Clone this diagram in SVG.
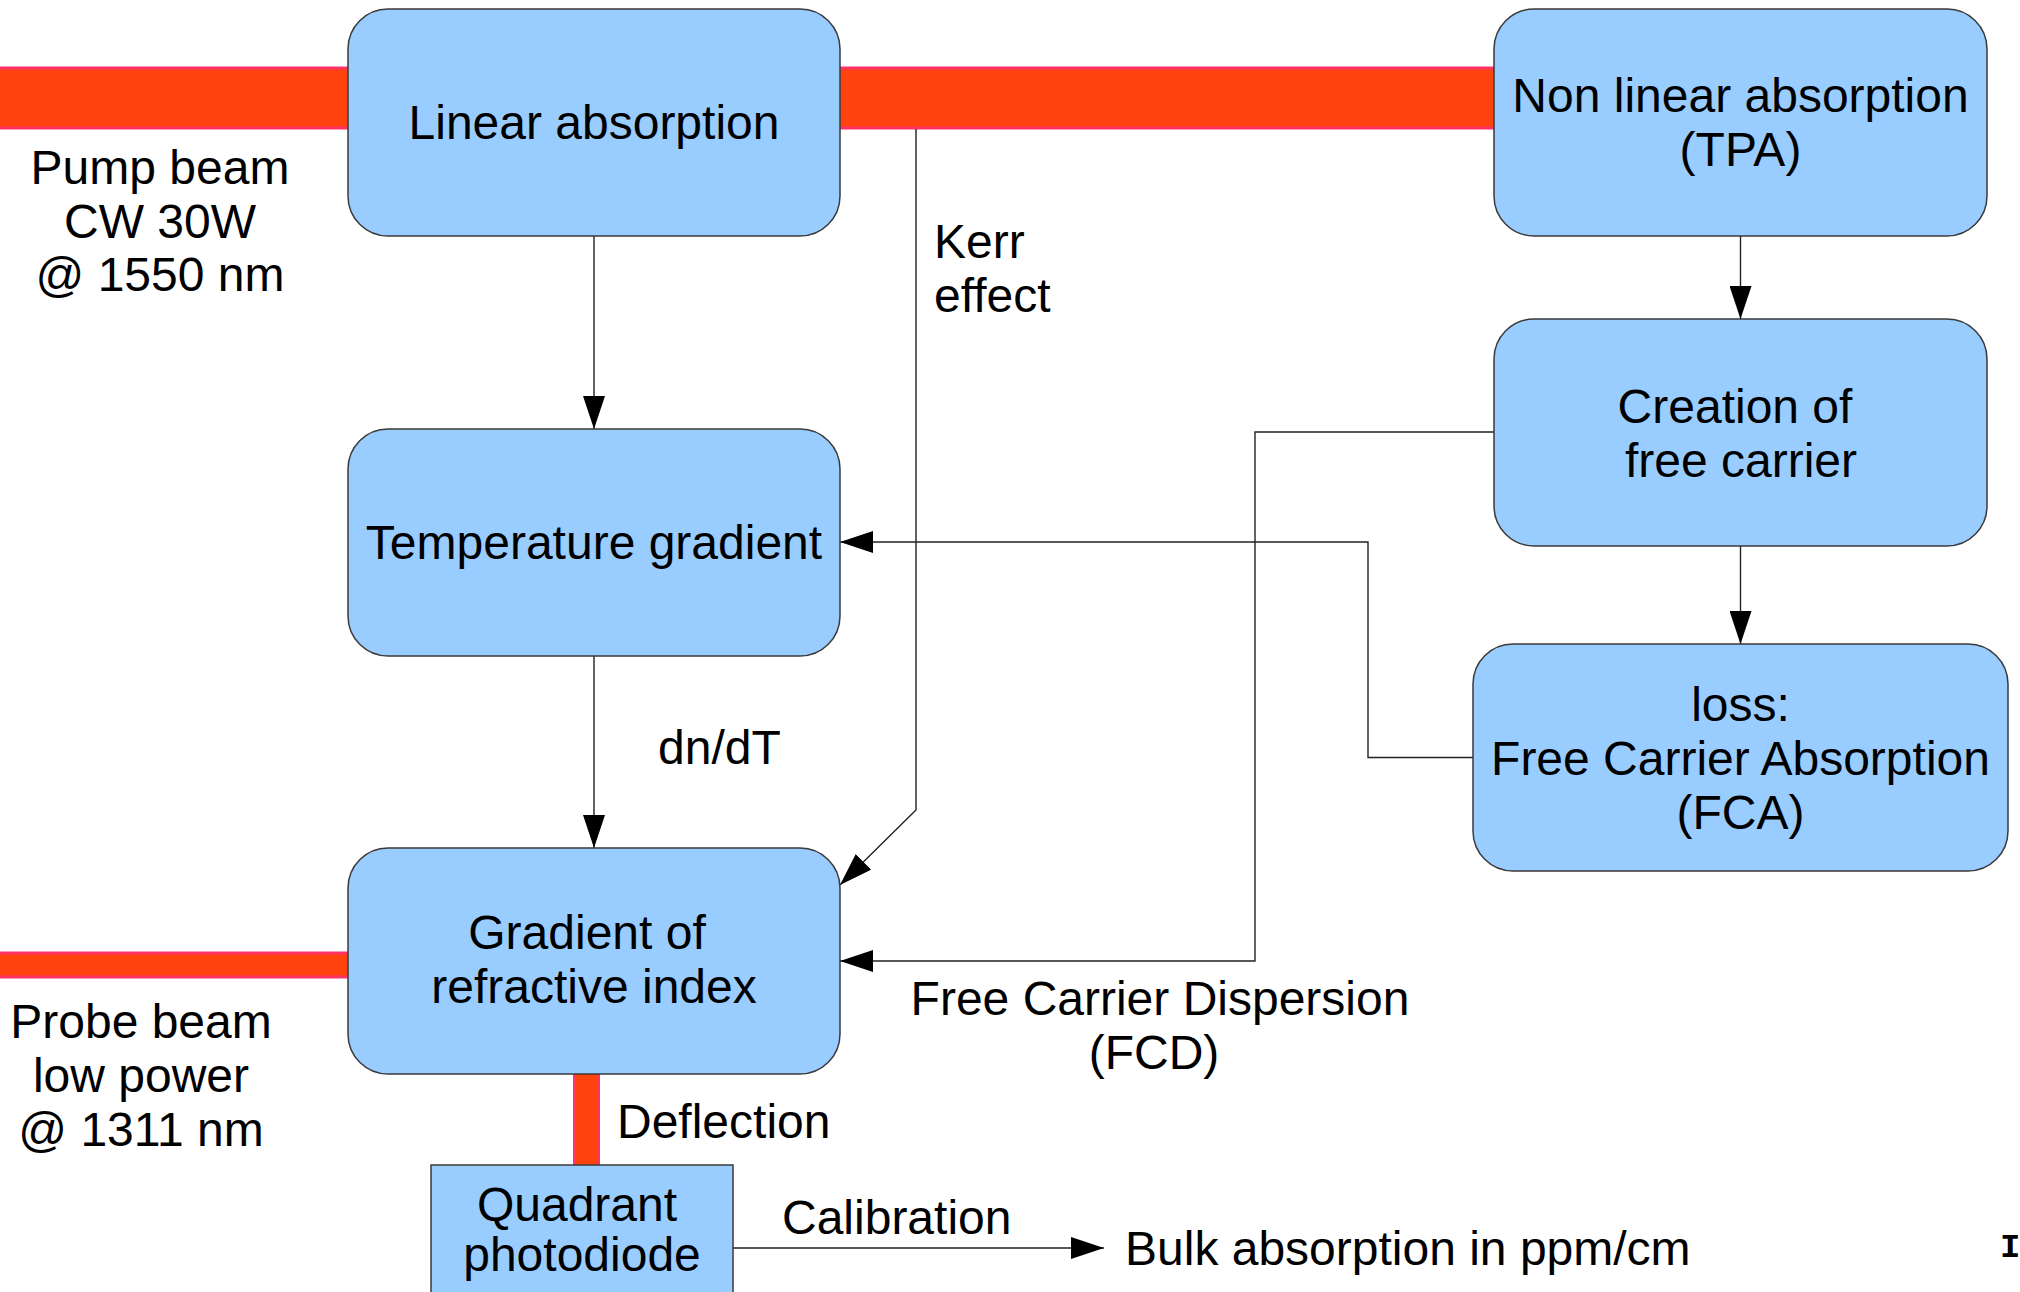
<svg xmlns="http://www.w3.org/2000/svg" width="2020" height="1292" viewBox="0 0 2020 1292">
<style>
  .box { fill: #99CCFF; stroke: #3a3a3a; stroke-width: 1.5; }
  .beam { fill: #FF420E; stroke: #FF3366; stroke-width: 3; }
  .t { font-family: "Liberation Sans", Arial, sans-serif; font-size: 48px; fill: #000; }
  .c { text-anchor: middle; }
  .wire { fill: none; stroke: #222; stroke-width: 1.4; }
</style>
<defs>
  <marker id="arr" markerUnits="userSpaceOnUse" markerWidth="34" markerHeight="22" refX="33" refY="11" orient="auto" viewBox="0 0 34 22">
    <path d="M0,0 L33,11 L0,22 z" fill="#000"/>
  </marker>
</defs>
<rect width="2020" height="1292" fill="#fff"/>

<g id="beams">
  <rect class="beam" x="-5" y="68" width="1510" height="60"/>
  <rect class="beam" x="-5" y="953" width="360" height="24"/>
  <rect class="beam" x="574.5" y="1070" width="24" height="100"/>
</g>

<g id="connectors">
  <line class="wire" x1="594" y1="236" x2="594" y2="429" marker-end="url(#arr)"/>
  <line class="wire" x1="594" y1="656" x2="594" y2="848" marker-end="url(#arr)"/>
  <line class="wire" x1="1740.5" y1="236" x2="1740.5" y2="319" marker-end="url(#arr)"/>
  <line class="wire" x1="1740.5" y1="546" x2="1740.5" y2="644" marker-end="url(#arr)"/>
  <polyline class="wire" points="1473,757.5 1368,757.5 1368,542 840,542" marker-end="url(#arr)"/>
  <polyline class="wire" points="1494,432 1255,432 1255,961 840,961" marker-end="url(#arr)"/>
  <polyline class="wire" points="916,129 916,810 840,885" marker-end="url(#arr)"/>
  <line class="wire" x1="733" y1="1248" x2="1104" y2="1248" marker-end="url(#arr)"/>
</g>

<g id="linear-absorption">
  <rect class="box" x="348" y="9" width="492" height="227" rx="40" ry="40"/>
  <text class="t c" x="594" y="139">Linear absorption</text>
</g>
<g id="temperature-gradient">
  <rect class="box" x="348" y="429" width="492" height="227" rx="40" ry="40"/>
  <text class="t c" x="594" y="559">Temperature gradient</text>
</g>
<g id="gradient-refractive-index">
  <rect class="box" x="348" y="848" width="492" height="226" rx="40" ry="40"/>
  <text class="t c" x="587" y="949">Gradient of</text>
  <text class="t c" x="594" y="1003">refractive index</text>
</g>
<g id="non-linear-absorption">
  <rect class="box" x="1494" y="9" width="493" height="227" rx="40" ry="40"/>
  <text class="t c" x="1740.5" y="112">Non linear absorption</text>
  <text class="t c" x="1740.5" y="166">(TPA)</text>
</g>
<g id="creation-free-carrier">
  <rect class="box" x="1494" y="319" width="493" height="227" rx="40" ry="40"/>
  <text class="t c" x="1735" y="423">Creation of</text>
  <text class="t c" x="1741" y="477">free carrier</text>
</g>
<g id="fca">
  <rect class="box" x="1473" y="644" width="535" height="227" rx="40" ry="40"/>
  <text class="t c" x="1740.5" y="721">loss:</text>
  <text class="t c" x="1740.5" y="775">Free Carrier Absorption</text>
  <text class="t c" x="1740.5" y="829">(FCA)</text>
</g>
<g id="quadrant-photodiode">
  <rect class="box" x="431" y="1165" width="302" height="140"/>
  <text class="t c" x="577" y="1221">Quadrant</text>
  <text class="t c" x="582" y="1271">photodiode</text>
</g>

<g id="labels">
  <text class="t c" x="160" y="184">Pump beam</text>
  <text class="t c" x="160" y="238">CW 30W</text>
  <text class="t c" x="160" y="291">@ 1550 nm</text>
  <text class="t c" x="141" y="1038">Probe beam</text>
  <text class="t c" x="141" y="1092">low power</text>
  <text class="t c" x="141" y="1146">@ 1311 nm</text>
  <text class="t" x="934" y="258">Kerr</text>
  <text class="t" x="934" y="312">effect</text>
  <text class="t" x="658" y="764">dn/dT</text>
  <text class="t c" x="1160" y="1015">Free Carrier Dispersion</text>
  <text class="t c" x="1154" y="1069">(FCD)</text>
  <text class="t" x="617" y="1138">Deflection</text>
  <text class="t" x="782" y="1234">Calibration</text>
  <text class="t" x="1125" y="1265">Bulk absorption in ppm/cm</text>
  <text x="2000" y="1257" font-family="Liberation Mono, monospace" font-weight="bold" font-size="34">I</text>
</g>
</svg>
